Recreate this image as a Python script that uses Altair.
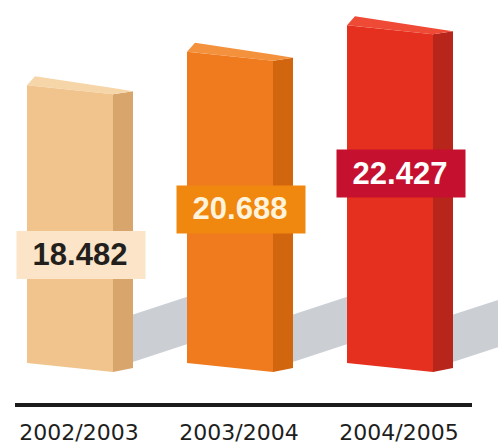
import altair as alt
import pandas as pd

categories = ["2002/2003", "2003/2004", "2004/2005"]
values = [18482, 20688, 22427]
value_labels = ["18.482", "20.688", "22.427"]

front_colors = ["#F0C48C", "#EF7B1E", "#E6301F"]
side_colors = ["#D8A66C", "#D2660F", "#B8251A"]
top_colors = ["#F6D6A8", "#F4913C", "#EE4A36"]
box_colors = ["#FBE4C8", "#F0870F", "#C5112F"]
text_colors = ["#231F1C", "#FFF3DC", "#FFFFFF"]

df = pd.DataFrame({
    "category": categories,
    "value": values,
    "label": value_labels,
    "idx": list(range(len(categories))),
})

STEP = 160.0          # pixels between bar centres
U = 65.92             # value units per pixel on the y scale

ys = alt.Scale(domain=[-5010, 24390], zero=False, nice=False)
xs = alt.Scale(domain=[-70 / STEP, 428 / STEP], zero=False, nice=False)


def col(rng):
    return alt.Color("category:N", scale=alt.Scale(domain=categories, range=rng), legend=None)


base = alt.Chart(df).transform_calculate(
    ground="0",
    labelpos="1.3611 * datum.value - 17575",
)


def face(pts, upper_from_value, lower_from_value, rng):
    # pts: [dx, upper_dy, lower_dy] pixel offsets from bar centre / top / ground
    up = "datum.value" if upper_from_value else "0"
    lo = "datum.value" if lower_from_value else "0"
    return base.transform_calculate(
        pts=str(pts)
    ).transform_flatten(["pts"]).transform_calculate(
        px=f"datum.idx + datum.pts[0] / {STEP}",
        yu=f"{up} - datum.pts[1] * {U}",
        yl=f"{lo} - datum.pts[2] * {U}",
    ).mark_area(orient="vertical", interpolate="linear").encode(
        x=alt.X("px:Q", scale=xs, axis=None),
        y=alt.Y("yu:Q", scale=ys, axis=None),
        y2=alt.Y2("yl:Q"),
        detail="category:N",
        color=col(rng),
    )


front = face([[-43, -4.5, -7], [43, 4.5, 2]], True, False, front_colors)
side = face([[43, 4.5, 2], [63, 1.5, -2]], True, False, side_colors)
top = face([[-43, -4.5, -4.5], [-35, -13.5, -3.7], [43, -1.6, 4.5], [63, 1.5, 1.5]],
           True, True, top_colors)

shadow = base.mark_rule(
    strokeWidth=45, color="#CBCFD4", xOffset=55, x2Offset=128,
    yOffset=-29, y2Offset=-53, strokeCap="butt",
).encode(
    x=alt.X("idx:Q", scale=xs, axis=None), x2=alt.X2("idx:Q"),
    y=alt.Y("ground:Q", scale=ys, axis=None), y2=alt.Y2("ground:Q"),
)

box = base.mark_rect(xOffset=-53.5, x2Offset=75.5, yOffset=24, y2Offset=-24).encode(
    x=alt.X("idx:Q", scale=xs, axis=None), x2=alt.X2("idx:Q"),
    y=alt.Y("labelpos:Q", scale=ys, axis=None), y2=alt.Y2("labelpos:Q"),
    color=col(box_colors),
)

label = base.mark_text(
    font="Liberation Sans", fontWeight="bold", fontSize=31, xOffset=10, dy=1,
    align="center", baseline="middle",
).encode(
    x=alt.X("idx:Q", scale=xs, axis=None),
    y=alt.Y("labelpos:Q", scale=ys, axis=None),
    text="label:N",
    color=col(text_colors),
)

cat_label = base.mark_text(
    font="DejaVu Sans", fontSize=22, color="#1e1e1e", xOffset=9,
    align="center", baseline="alphabetic",
).encode(
    x=alt.X("idx:Q", scale=xs, axis=None),
    y=alt.value(440),
    text="category:N",
)

baseline = base.mark_rule(strokeWidth=4, color="#1c1c1c").encode(
    x=alt.value(15), x2=alt.value(472), y=alt.value(405),
)

chart = alt.layer(shadow, side, top, front, box, label, baseline, cat_label).resolve_scale(
    color="independent"
).properties(
    width=498, height=446, padding=0, autosize=alt.AutoSizeParams(type="none"),
    background="white",
).configure_view(stroke=None)

chart.save("out.html", embed_options={"renderer": "svg", "actions": False})
